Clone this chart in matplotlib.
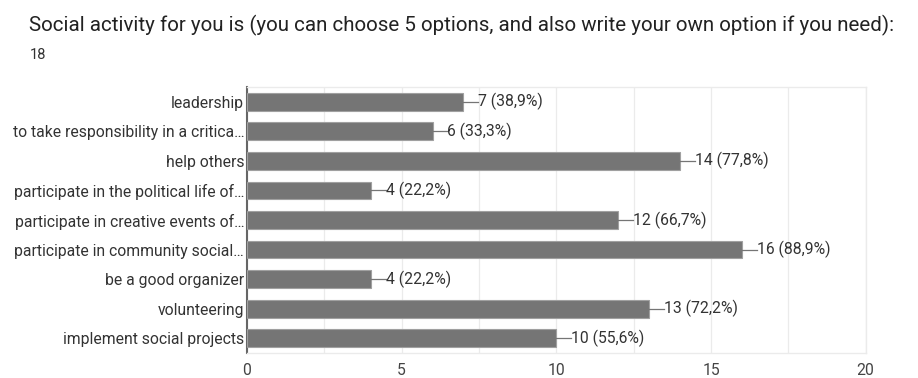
import matplotlib.pyplot as plt

plt.rcParams['font.family'] = ['Roboto', 'DejaVu Sans']

# Survey answers (18 respondents)
options = [
    'leadership',
    'to take responsibility in a critica\u2026',
    'help others',
    'participate in the political life of\u2026',
    'participate in creative events of\u2026',
    'participate in community social\u2026',
    'be a good organizer',
    'volunteering',
    'implement social projects',
]
counts = [7, 6, 14, 4, 12, 16, 4, 13, 10]
percents = ['38,9%', '33,3%', '77,8%', '22,2%', '66,7%', '88,9%', '22,2%', '72,2%', '55,6%']
ticks = [0, 5, 10, 15, 20]
title = 'Social activity for you is (you can choose 5 options, and also write your own option if you need):'
total = '18'

fig = plt.figure(figsize=(9.18, 3.78), dpi=100)
ax = fig.add_axes([0.269, 0.066, 0.674, 0.704])

pos = list(range(len(options)))
ax.barh(pos, counts, height=0.6, color='#757575', edgecolor='#a0a0a0', linewidth=0.8, zorder=3)

# connector line + value label
for i, c in enumerate(counts):
    ax.plot([c, c + 0.48], [i, i], color='#757575', linewidth=0.9, zorder=3)
    ax.text(c + 0.48, i, f'{c} ({percents[i]})', va='center', ha='left',
            fontsize=11.3, color='#333333')

ax.set_xlim(0, 20)
ax.set_ylim(len(options) - 0.5, -0.5)
ax.set_yticks(pos)
ax.set_yticklabels(options, fontsize=11.3, color='#333333')
ax.set_xticks(ticks)
ax.set_xticklabels([str(t) for t in ticks], fontsize=11.3, color='#444444')
ax.set_xticks([2.5, 7.5, 12.5, 17.5], minor=True)
ax.tick_params(axis='both', which='both', length=0, pad=2)
ax.tick_params(axis='x', which='both', pad=7)
ax.grid(axis='x', which='both', color='#ebebeb', linewidth=0.9, zorder=0)

for side in ['top', 'right', 'bottom']:
    ax.spines[side].set_color('#ebebeb')
    ax.spines[side].set_linewidth(1.0)
ax.spines['left'].set_color('#666666')
ax.spines['left'].set_linewidth(1.5)

fig.text(0.032, 0.905, title, fontsize=14.8, color='#222222', va='bottom')
fig.text(0.032, 0.835, total, fontsize=10.5, color='#333333', va='bottom')

fig.savefig('out.png', dpi=100)
